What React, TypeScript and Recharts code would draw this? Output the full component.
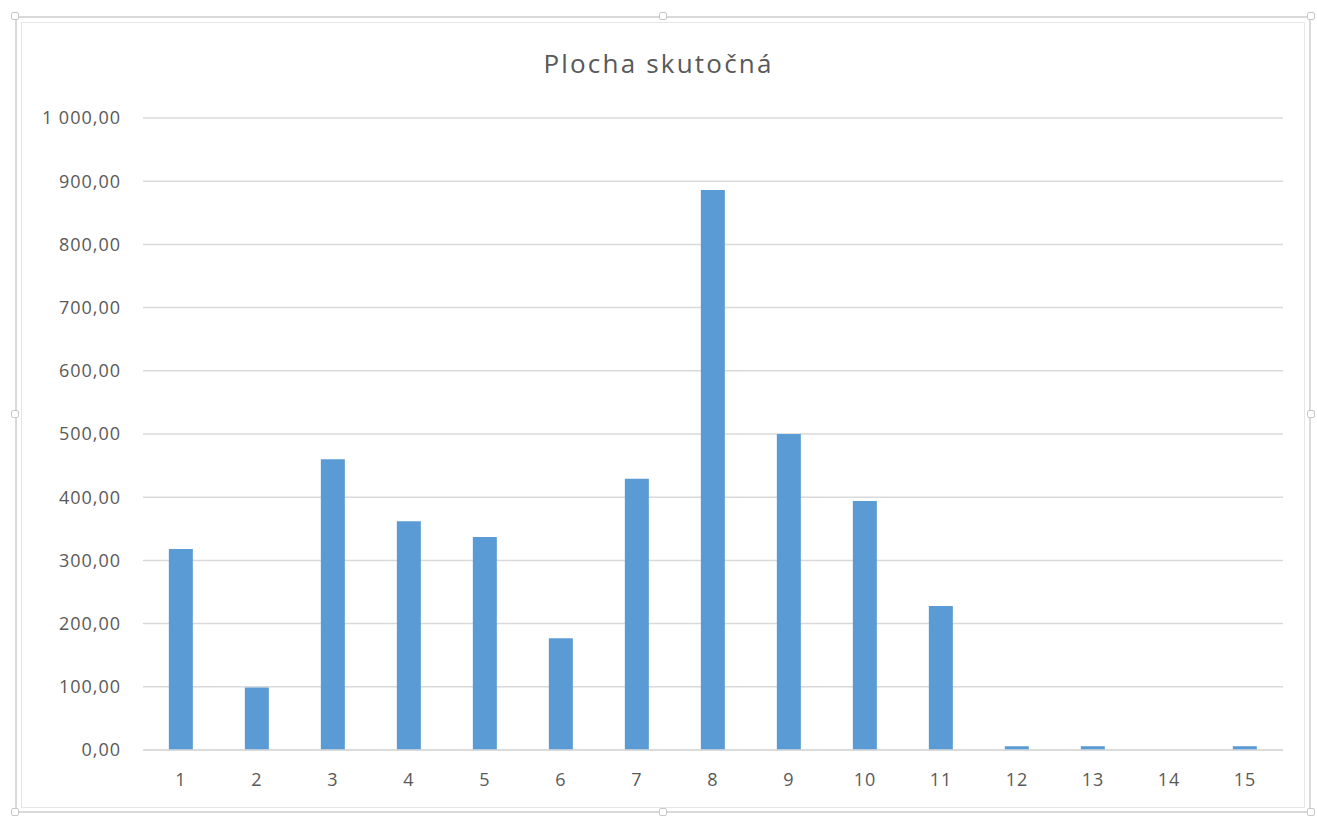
import { BarChart, Bar, XAxis, YAxis, CartesianGrid } from 'recharts'

const categories = ['1', '2', '3', '4', '5', '6', '7', '8', '9', '10', '11', '12', '13', '14', '15']
const plocha = [318, 99, 460, 362, 337, 177, 429, 886, 500, 394, 228, 6, 6, 0, 6]
const yTicks = [0, 100, 200, 300, 400, 500, 600, 700, 800, 900, 1000]

const data = categories.map((c, i) => ({ name: c, value: plocha[i] }))

// slovak number format: "1 000,00"
function fmt(v: number) {
  const [int, dec] = v.toFixed(2).split('.')
  return int.replace(/\B(?=(\d{3})+(?!\d))/g, ' ') + ',' + dec
}

const font = "'Open Sans', 'Noto Sans', sans-serif"
const grey = '#d9d9d9'
const tickStyle = { fontSize: 18, fill: '#595959', fontFamily: font, letterSpacing: 1 }

// selection handles of the excel chart frame
const handles = [
  [15, 16], [663, 16], [1311, 16],
  [15, 414], [1311, 414],
  [15, 812], [663, 812], [1311, 812],
]

export default function App() {
  return (
    <div style={{ position: 'fixed', left: 0, top: 0, width: 1317, height: 821, background: '#fff', fontFamily: font }}>
      <div style={{ position: 'absolute', left: 15, top: 16, width: 1296, height: 797, border: `2px solid ${grey}`, boxSizing: 'border-box' }} />
      <div style={{ position: 'absolute', left: 21, top: 22, width: 1284, height: 786, border: `1px solid #e6e6e6`, boxSizing: 'border-box' }} />
      {handles.map(([x, y], i) => (
        <div key={i} style={{ position: 'absolute', left: x - 4, top: y - 4, width: 8, height: 8, border: '1px solid #c8c8c8', background: '#fff', borderRadius: 2, boxSizing: 'border-box' }} />
      ))}
      <div style={{ position: 'absolute', left: 0, top: 45, width: 1317, textAlign: 'center', fontSize: 26, letterSpacing: 2.2, color: '#595959' }}>
        Plocha skutočná
      </div>
      <div style={{ position: 'absolute', left: 0, top: 0 }}>
        <BarChart
          width={1317}
          height={821}
          data={data}
          margin={{ top: 118, right: 34, left: 0, bottom: 0 }}
          barCategoryGap="34%"
        >
          <CartesianGrid vertical={false} stroke={grey} strokeWidth={1.5} />
          <XAxis
            dataKey="name"
            height={71}
            axisLine={{ stroke: grey, strokeWidth: 1.5 }}
            tickLine={false}
            tickSize={0}
            tickMargin={23}
            tick={tickStyle}
          />
          <YAxis
            width={143}
            domain={[0, 1000]}
            ticks={yTicks}
            interval={0}
            axisLine={false}
            tickLine={false}
            tickSize={0}
            tickMargin={22}
            tickFormatter={fmt}
            tick={tickStyle}
          />
          <Bar dataKey="value" fill="#5b9bd5" isAnimationActive={false} />
        </BarChart>
      </div>
    </div>
  )
}
